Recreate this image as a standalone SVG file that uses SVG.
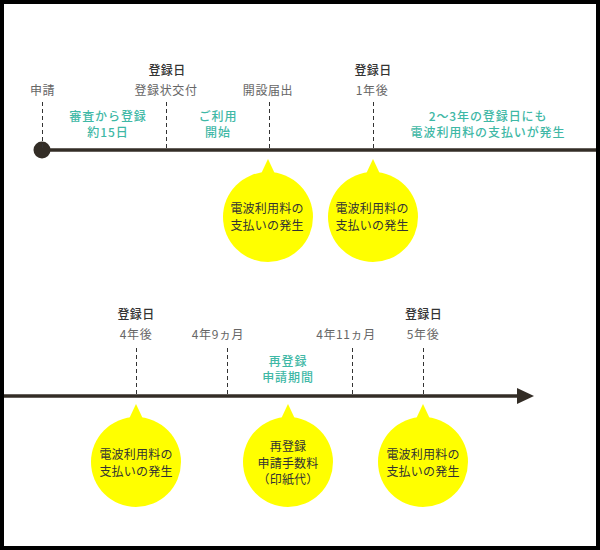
<svg xmlns="http://www.w3.org/2000/svg" width="600" height="550" viewBox="0 0 600 550">
<style>
text{font-family:"Noto Sans CJK JP","Noto Sans",sans-serif;text-anchor:middle}
.lbl{font-size:12px;fill:#666;letter-spacing:0.6px}
.day{font-size:12px;fill:#333;font-weight:500;letter-spacing:0.4px}
.teal{font-size:12px;fill:#3fb8a6;font-weight:500;letter-spacing:0.9px}
.bt{font-size:12px;fill:#333;letter-spacing:0.2px}
.tick{stroke:#333;stroke-width:1;stroke-dasharray:4 3}
.axis{stroke:#332d26;stroke-width:3.5;fill:none}
.bub{fill:#ffff00}
</style>
<rect x="2" y="2" width="596" height="546" fill="#fff" stroke="#000" stroke-width="4"/>
<g id="connectors">
<line class="axis" x1="42" y1="150" x2="596" y2="150"/>
<circle cx="42" cy="150" r="8.5" fill="#332d26"/>
<line class="axis" x1="4" y1="396" x2="520" y2="396"/>
<polygon points="517,388 534,396 517,404" fill="#332d26"/>
<line class="tick" x1="42.5" y1="102" x2="42.5" y2="150"/>
<line class="tick" x1="166.5" y1="102" x2="166.5" y2="150"/>
<line class="tick" x1="269.5" y1="102" x2="269.5" y2="150"/>
<line class="tick" x1="373.5" y1="102" x2="373.5" y2="150"/>
<line class="tick" x1="136.5" y1="348" x2="136.5" y2="396"/>
<line class="tick" x1="227.5" y1="348" x2="227.5" y2="396"/>
<line class="tick" x1="352.5" y1="348" x2="352.5" y2="396"/>
<line class="tick" x1="423.5" y1="348" x2="423.5" y2="396"/>
</g>
<g id="labels-top">
<text class="lbl" x="42.5" y="95">申請</text>
<text class="day" x="167" y="75">登録日</text>
<text class="lbl" x="166" y="95">登録状交付</text>
<text class="lbl" x="268" y="95">開設届出</text>
<text class="day" x="373" y="75">登録日</text>
<text class="lbl" x="372" y="95">1年後</text>
<text class="teal" x="108" y="120.5">審査から登録</text>
<text class="teal" x="108" y="137">約15日</text>
<text class="teal" x="218" y="120.5">ご利用</text>
<text class="teal" x="218" y="137">開始</text>
<text class="teal" x="488" y="120.5">2〜3年の登録日にも</text>
<text class="teal" x="488" y="137">電波利用料の支払いが発生</text>
</g>
<g id="labels-bottom">
<text class="day" x="136" y="319">登録日</text>
<text class="lbl" x="136" y="339">4年後</text>
<text class="lbl" x="218" y="339">4年9ヵ月</text>
<text class="lbl" x="346" y="339">4年11ヵ月</text>
<text class="day" x="423.5" y="319">登録日</text>
<text class="lbl" x="423" y="339">5年後</text>
<text class="teal" x="288" y="365.5">再登録</text>
<text class="teal" x="288" y="382">申請期間</text>
</g>
<g id="bubble1">
<polygon class="bub" points="268,159 260,176 276,176"/>
<circle class="bub" cx="268" cy="217" r="45"/>
<text class="bt" x="267" y="213">電波利用料の</text>
<text class="bt" x="267" y="230">支払いの発生</text>
</g>
<g id="bubble2">
<polygon class="bub" points="373,159 365,176 381,176"/>
<circle class="bub" cx="373" cy="217" r="45"/>
<text class="bt" x="372" y="213">電波利用料の</text>
<text class="bt" x="372" y="230">支払いの発生</text>
</g>
<g id="bubble3">
<polygon class="bub" points="136,404 128,421 144,421"/>
<circle class="bub" cx="136" cy="462" r="45"/>
<text class="bt" x="136" y="459">電波利用料の</text>
<text class="bt" x="136" y="476">支払いの発生</text>
</g>
<g id="bubble4">
<polygon class="bub" points="288,404 280,421 296,421"/>
<circle class="bub" cx="288" cy="462" r="45"/>
<text class="bt" x="288" y="451">再登録</text>
<text class="bt" x="288" y="468">申請手数料</text>
<text class="bt" x="288" y="484">（印紙代）</text>
</g>
<g id="bubble5">
<polygon class="bub" points="423,404 415,421 431,421"/>
<circle class="bub" cx="423" cy="462" r="45"/>
<text class="bt" x="423" y="459">電波利用料の</text>
<text class="bt" x="423" y="476">支払いの発生</text>
</g>
</svg>
